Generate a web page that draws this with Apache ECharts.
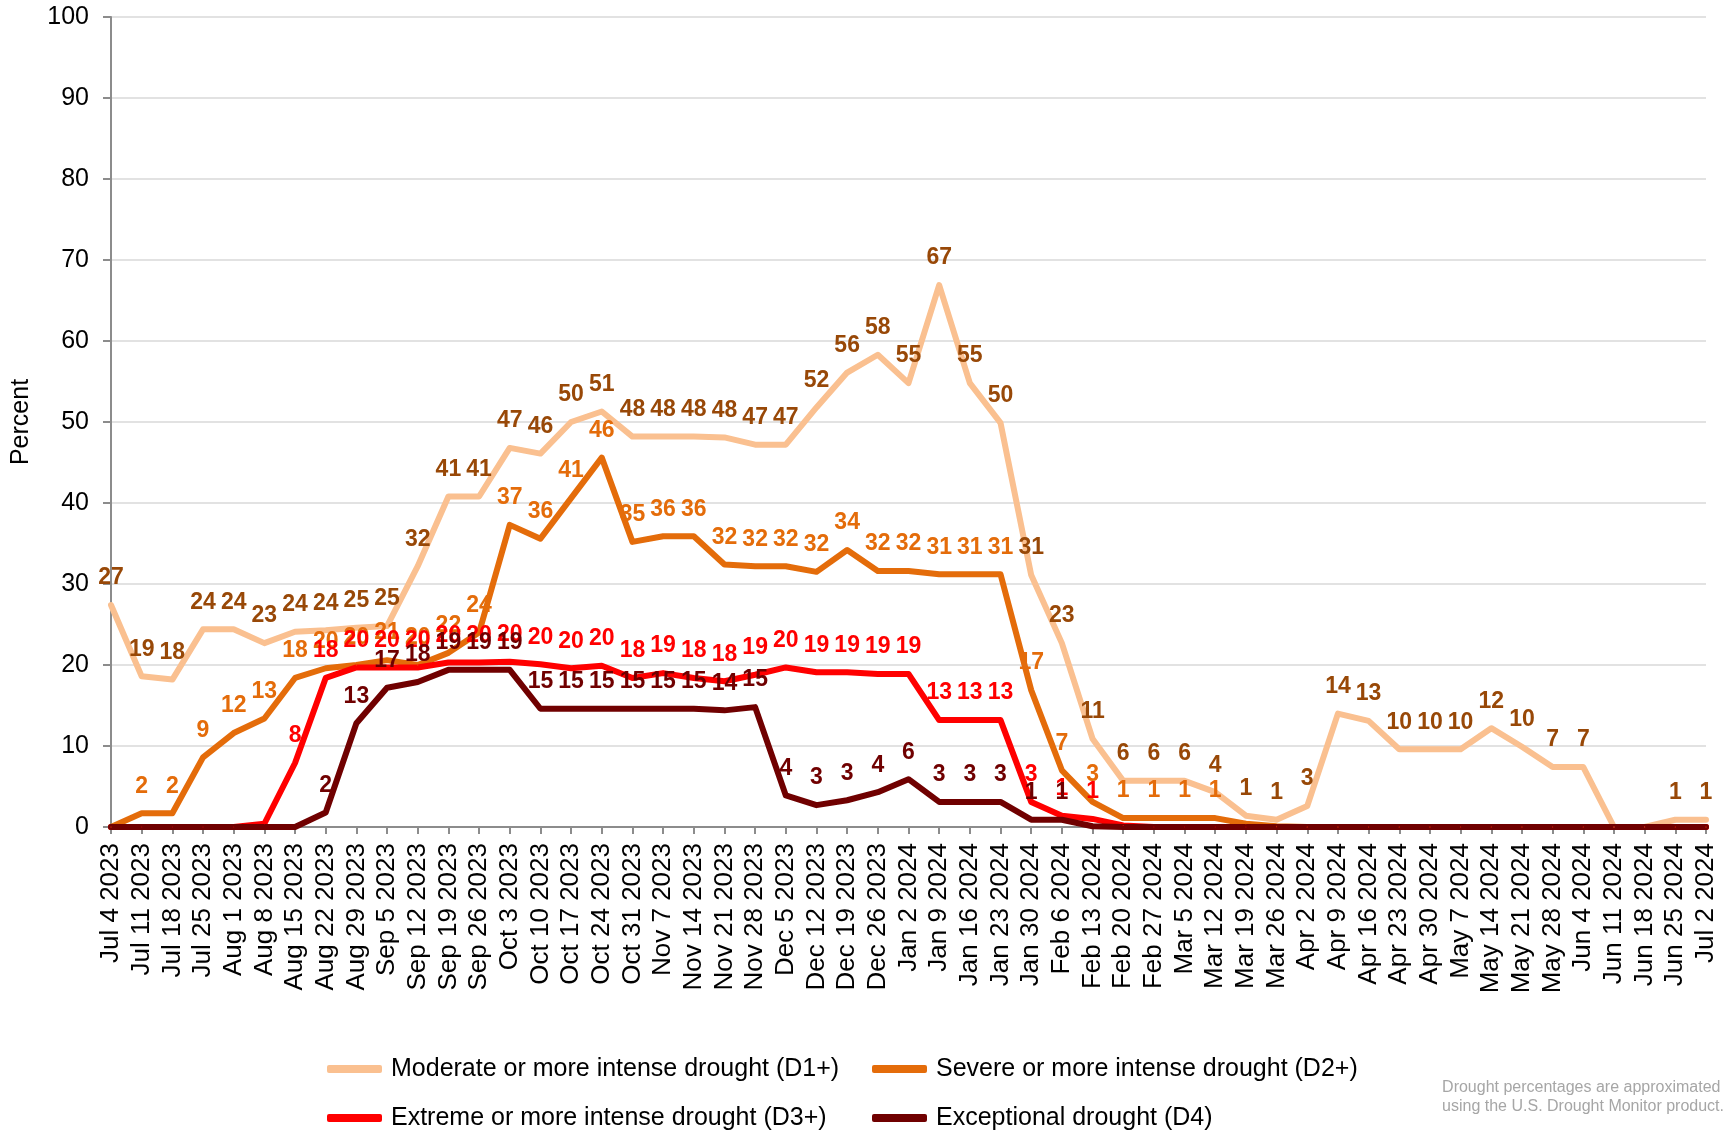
<!DOCTYPE html>
<html>
<head>
<meta charset="utf-8">
<title>Drought percentages</title>
<script src="https://cdn.jsdelivr.net/npm/echarts@6/dist/echarts.min.js"></script>
<style>
  html, body { margin: 0; padding: 0; background: #fff; }
  #chart { width: 1729px; height: 1130px; }
</style>
</head>
<body>
<div id="chart"></div>
<script>
// weekly dates
var weeks = [
  'Jul 4 2023', 'Jul 11 2023', 'Jul 18 2023', 'Jul 25 2023', 'Aug 1 2023', 'Aug 8 2023',
  'Aug 15 2023', 'Aug 22 2023', 'Aug 29 2023', 'Sep 5 2023', 'Sep 12 2023', 'Sep 19 2023',
  'Sep 26 2023', 'Oct 3 2023', 'Oct 10 2023', 'Oct 17 2023', 'Oct 24 2023', 'Oct 31 2023',
  'Nov 7 2023', 'Nov 14 2023', 'Nov 21 2023', 'Nov 28 2023', 'Dec 5 2023', 'Dec 12 2023',
  'Dec 19 2023', 'Dec 26 2023', 'Jan 2 2024', 'Jan 9 2024', 'Jan 16 2024', 'Jan 23 2024',
  'Jan 30 2024', 'Feb 6 2024', 'Feb 13 2024', 'Feb 20 2024', 'Feb 27 2024', 'Mar 5 2024',
  'Mar 12 2024', 'Mar 19 2024', 'Mar 26 2024', 'Apr 2 2024', 'Apr 9 2024', 'Apr 16 2024',
  'Apr 23 2024', 'Apr 30 2024', 'May 7 2024', 'May 14 2024', 'May 21 2024', 'May 28 2024',
  'Jun 4 2024', 'Jun 11 2024', 'Jun 18 2024', 'Jun 25 2024', 'Jul 2 2024'
];

// percent of area, per drought level
var d1plus = [27.4, 18.6, 18.2, 24.4, 24.4, 22.7, 24.1, 24.3, 24.6, 24.8, 32.2, 40.8, 40.8,
  46.8, 46.1, 50.0, 51.3, 48.2, 48.2, 48.2, 48.1, 47.2, 47.2, 51.8, 56.1, 58.3,
  54.8, 66.9, 54.8, 49.9, 31.1, 22.7, 10.9, 5.7, 5.7, 5.7, 4.3, 1.4, 0.9, 2.6,
  14.0, 13.1, 9.6, 9.6, 9.6, 12.2, 9.9, 7.4, 7.4, 0, 0, 0.9, 0.9];
var d2plus = [0, 1.7, 1.7, 8.6, 11.6, 13.4, 18.4, 19.6, 20.0, 20.6, 20.0, 21.5, 24.0,
  37.3, 35.6, 40.6, 45.6, 35.2, 35.9, 35.9, 32.4, 32.2, 32.2, 31.5, 34.2, 31.6,
  31.6, 31.2, 31.2, 31.2, 16.9, 7.0, 3.1, 1.1, 1.1, 1.1, 1.1, 0.4, 0.1, 0,
  0, 0, 0, 0, 0, 0, 0, 0, 0, 0, 0, 0, 0];
var d3plus = [0, 0, 0, 0, 0, 0.4, 7.9, 18.4, 19.7, 19.7, 19.7, 20.3, 20.3,
  20.4, 20.1, 19.6, 19.9, 18.4, 19.0, 18.4, 18.0, 18.8, 19.7, 19.1, 19.1, 18.9,
  18.9, 13.2, 13.2, 13.2, 3.1, 1.4, 1.0, 0.2, 0, 0, 0, 0, 0, 0,
  0, 0, 0, 0, 0, 0, 0, 0, 0, 0, 0, 0, 0];
var d4 = [0, 0, 0, 0, 0, 0, 0, 1.8, 12.8, 17.2, 17.9, 19.4, 19.4,
  19.4, 14.6, 14.6, 14.6, 14.6, 14.6, 14.6, 14.4, 14.8, 3.9, 2.7, 3.3, 4.3,
  5.9, 3.1, 3.1, 3.1, 0.9, 0.9, 0.1, 0, 0, 0, 0, 0, 0, 0,
  0, 0, 0, 0, 0, 0, 0, 0, 0, 0, 0, 0, 0];

var names = [
  'Moderate or more intense drought (D1+)',
  'Severe or more intense drought (D2+)',
  'Extreme or more intense drought (D3+)',
  'Exceptional drought (D4)'
];

var font = '"Liberation Sans", Arial, sans-serif';

function roundLabel(p) {
  var r = Math.round(p.value);
  return r > 0 ? String(r) : '';
}

function makeSeries(name, data, lineColor, labelColor) {
  return {
    name: name,
    type: 'line',
    data: data,
    symbol: 'circle',
    symbolSize: 1,
    itemStyle: { color: lineColor },
    lineStyle: { color: lineColor, width: 6, cap: 'round', join: 'round' },
    label: {
      show: true,
      position: 'top',
      distance: 15,
      formatter: roundLabel,
      color: labelColor,
      fontFamily: font,
      fontWeight: 'bold',
      fontSize: 23
    },
    emphasis: { disabled: true },
    animation: false
  };
}

function legendAt(name, left, top) {
  return {
    data: [name],
    left: left,
    top: top,
    icon: 'roundRect',
    itemWidth: 55,
    itemHeight: 8,
    selectedMode: false,
    textStyle: { fontFamily: font, fontSize: 25, color: '#000', lineHeight: 26, padding: [0, 0, 0, 4] }
  };
}

var chart = echarts.init(document.getElementById('chart'));

var option = {
  backgroundColor: '#fff',
  animation: false,
  grid: { left: 111, right: 23, top: 17, bottom: 303, containLabel: false },
  legend: [
    legendAt(names[0], 322, 1051),
    legendAt(names[1], 867, 1051),
    legendAt(names[2], 322, 1100),
    legendAt(names[3], 867, 1100)
  ],
  xAxis: {
    type: 'category',
    data: weeks,
    boundaryGap: false,
    axisLine: { lineStyle: { color: '#8c8c8c', width: 2 } },
    axisTick: { show: true, alignWithLabel: true, length: 7, interval: 0, lineStyle: { color: '#8c8c8c', width: 2 } },
    axisLabel: { interval: 0, rotate: 90, margin: 16, color: '#000', fontFamily: font, fontSize: 26 }
  },
  yAxis: {
    type: 'value',
    min: 0,
    max: 100,
    interval: 10,
    name: 'Percent',
    nameLocation: 'middle',
    nameRotate: 90,
    nameGap: 77,
    nameTextStyle: { color: '#000', fontFamily: font, fontSize: 25 },
    axisLine: { show: true, lineStyle: { color: '#8c8c8c', width: 2 } },
    axisTick: { show: true, length: 8, lineStyle: { color: '#8c8c8c', width: 2 } },
    axisLabel: { margin: 22, color: '#000', fontFamily: font, fontSize: 25 },
    splitLine: { lineStyle: { color: '#d9d9d9', width: 1.5 } }
  },
  graphic: [
    {
      type: 'text',
      right: 5,
      top: 1078,
      style: {
        text: 'Drought percentages are approximated\nusing the U.S. Drought Monitor product.',
        align: 'right',
        fill: '#a6a6a6',
        font: '16px ' + font,
        lineHeight: 19
      }
    }
  ],
  series: [
    makeSeries(names[0], d1plus, '#FAC090', '#984807'),
    makeSeries(names[1], d2plus, '#E46C0A', '#E46C0A'),
    makeSeries(names[2], d3plus, '#FF0000', '#FF0000'),
    makeSeries(names[3], d4, '#700000', '#700000')
  ]
};

chart.setOption(option);
</script>
</body>
</html>
